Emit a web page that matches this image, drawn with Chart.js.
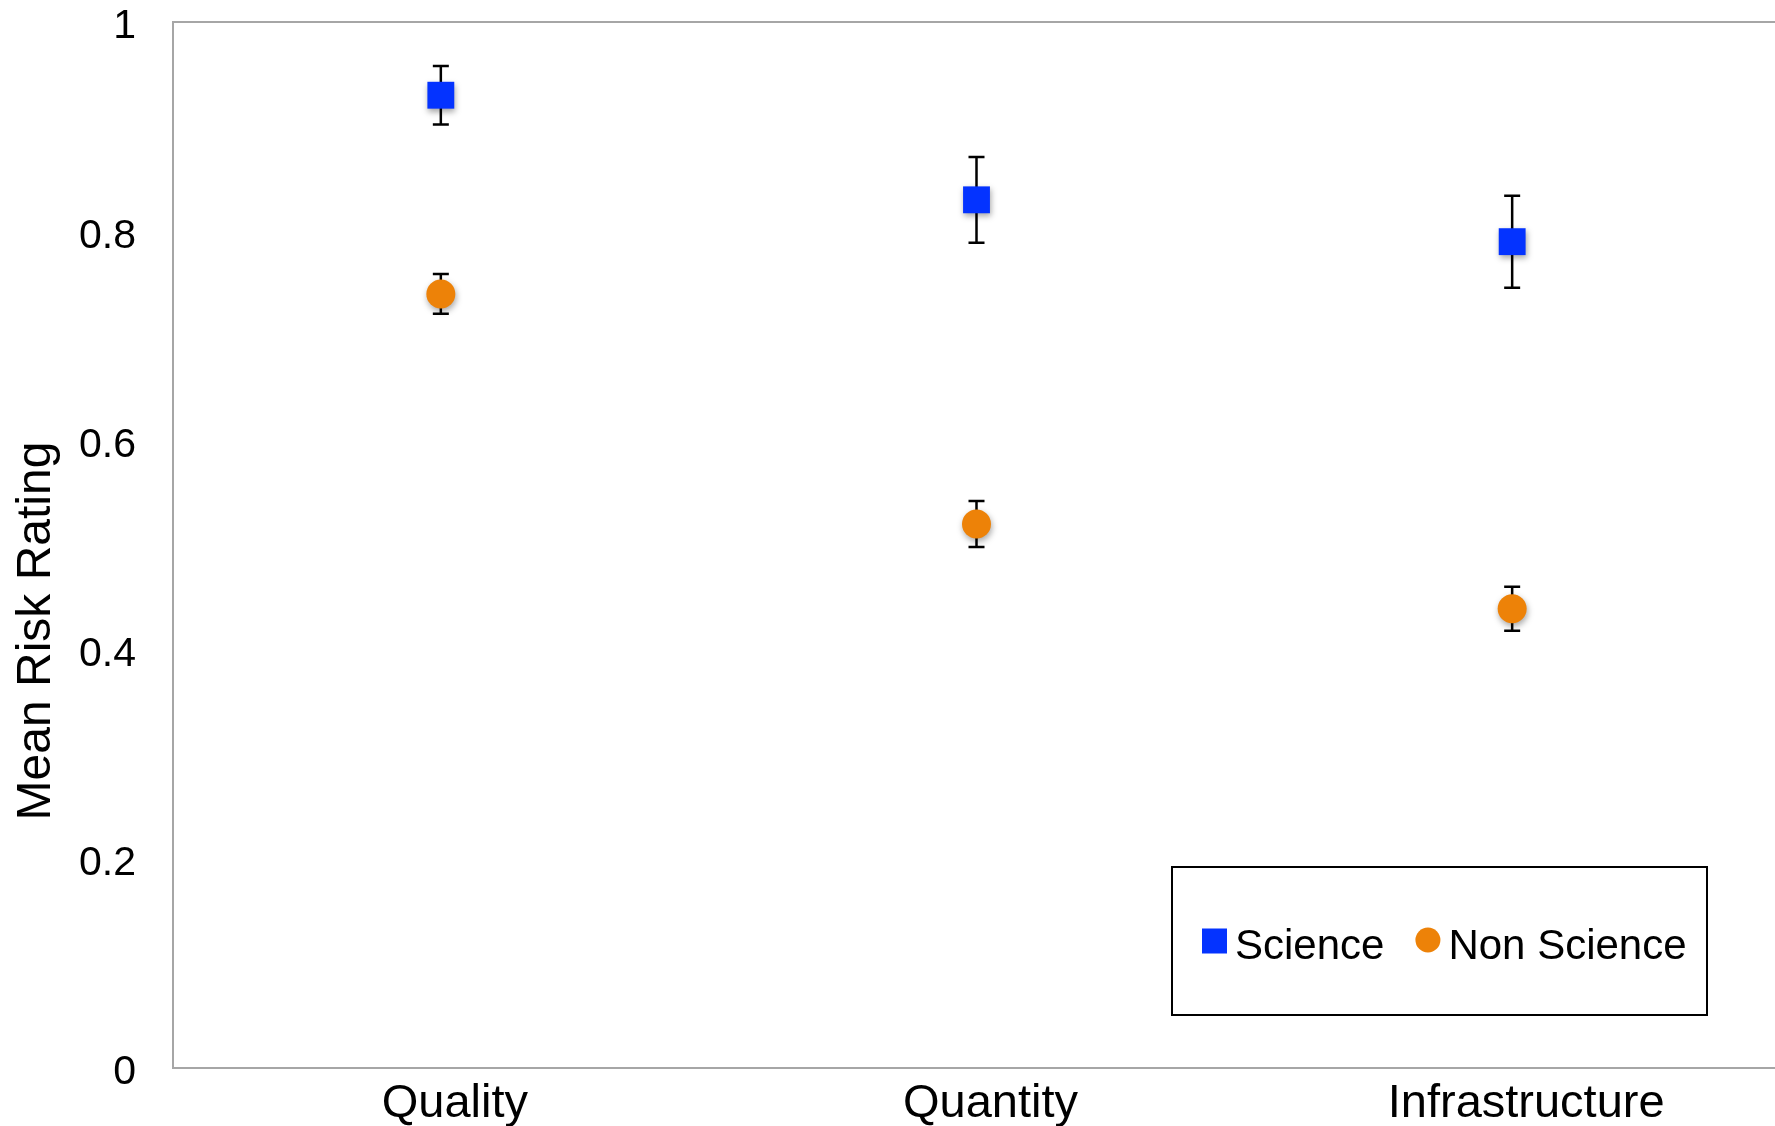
<!DOCTYPE html>
<html>
<head>
<meta charset="utf-8">
<script src="https://cdn.jsdelivr.net/npm/chart.js@4"></script>
<style>
  html, body { margin: 0; padding: 0; background: #fff; overflow: hidden; }
  #wrap { position: relative; width: 1799px; height: 1126px; }
</style>
</head>
<body>
<div id="wrap"><canvas id="chart-risk"></canvas></div>
<script>
var categories = ['Quality', 'Quantity', 'Infrastructure'];
var science = [0.930, 0.830, 0.790];
var scienceErr = [0.028, 0.041, 0.044];
var nonScience = [0.740, 0.520, 0.439];
var nonScienceErr = [0.019, 0.022, 0.021];

var FONT = "'Liberation Sans', Arial, Helvetica, sans-serif";
var BLUE = 'rgb(4, 51, 255)';
var ORANGE = 'rgb(237, 130, 8)';
var FRAME = '#a6a6a6';

// error bars behind the markers, then a soft shadow for the markers
var errorBars = {
  id: 'errorBars',
  beforeDatasetsDraw: function(chart) {
    let ctx = chart.ctx;
    let x = chart.scales.x, y = chart.scales.y;
    ctx.save();
    ctx.strokeStyle = '#000';
    ctx.lineWidth = 2.5;
    chart.data.datasets.forEach(function(ds) {
      ds.data.forEach(function(v, i) {
        let px = x.getPixelForValue(i);
        let top = y.getPixelForValue(v + ds.errors[i]);
        let bot = y.getPixelForValue(v - ds.errors[i]);
        ctx.beginPath();
        ctx.moveTo(px, top); ctx.lineTo(px, bot);
        ctx.moveTo(px - 8, top); ctx.lineTo(px + 8, top);
        ctx.moveTo(px - 8, bot); ctx.lineTo(px + 8, bot);
        ctx.stroke();
      });
    });
    ctx.restore();
    ctx.save();
    ctx.shadowColor = 'rgba(0, 0, 0, 0.35)';
    ctx.shadowBlur = 6;
    ctx.shadowOffsetX = 1;
    ctx.shadowOffsetY = 3;
  },
  afterDatasetsDraw: function(chart) {
    chart.ctx.restore();
  }
};

// top frame line, rotated y title and the boxed legend
var decorations = {
  id: 'decorations',
  afterDraw: function(chart) {
    let ctx = chart.ctx;
    let area = chart.chartArea;
    ctx.save();
    ctx.strokeStyle = FRAME;
    ctx.lineWidth = 2;
    ctx.beginPath();
    ctx.moveTo(area.left, area.top);
    ctx.lineTo(area.right, area.top);
    ctx.stroke();

    ctx.fillStyle = '#000';
    ctx.font = '48px ' + FONT;
    ctx.textAlign = 'center';
    ctx.textBaseline = 'middle';
    ctx.translate(37, 631);
    ctx.rotate(-Math.PI / 2);
    ctx.fillText('Mean Risk Rating', 0, 0);
    ctx.restore();

    ctx.save();
    ctx.strokeStyle = '#000';
    ctx.lineWidth = 2;
    ctx.fillStyle = '#fff';
    ctx.fillRect(1172, 867, 535, 148);
    ctx.strokeRect(1172, 867, 535, 148);
    ctx.font = '42px ' + FONT;
    ctx.textBaseline = 'middle';
    ctx.textAlign = 'left';
    let cx = 1202, cy = 941;
    chart.data.datasets.forEach(function(ds) {
      ctx.fillStyle = ds.pointBackgroundColor;
      if (ds.pointStyle === 'rect') {
        ctx.fillRect(cx, cy - 12.5, 25, 25);
      } else {
        ctx.beginPath();
        ctx.arc(cx + 12.5, cy - 1, 12.5, 0, Math.PI * 2);
        ctx.fill();
      }
      ctx.fillStyle = '#000';
      ctx.fillText(ds.label, cx + 33, cy + 6);
      cx += 33 + ctx.measureText(ds.label).width + 31;
    });
    ctx.restore();
  }
};

new Chart(document.getElementById('chart-risk'), {
  type: 'line',
  data: {
    labels: categories,
    datasets: [{
      label: 'Science',
      data: science,
      errors: scienceErr,
      showLine: false,
      pointStyle: 'rect',
      pointRadius: 19,
      pointBorderWidth: 0,
      pointBackgroundColor: BLUE,
      pointBorderColor: BLUE
    }, {
      label: 'Non Science',
      data: nonScience,
      errors: nonScienceErr,
      showLine: false,
      pointStyle: 'circle',
      pointRadius: 14.5,
      pointBorderWidth: 0,
      pointBackgroundColor: ORANGE,
      pointBorderColor: ORANGE
    }]
  },
  options: {
    responsive: true,
    maintainAspectRatio: false,
    animation: false,
    events: [],
    layout: { padding: { top: 22, left: 0, right: 0, bottom: 0 } },
    plugins: {
      legend: { display: false },
      tooltip: { enabled: false }
    },
    scales: {
      x: {
        offset: true,
        grid: { display: false, drawTicks: false },
        border: { display: true, color: FRAME, width: 2 },
        ticks: {
          color: '#000',
          font: { family: FONT, size: 47 },
          padding: 8,
          labelOffset: 14,
          maxRotation: 0,
          autoSkip: false
        },
        afterFit: function(scale) {
          scale.height = 58;
          scale.paddingLeft = 0;
          scale.paddingRight = 0;
        }
      },
      y: {
        min: 0,
        max: 1,
        grid: { display: false, drawTicks: false },
        border: { display: true, color: FRAME, width: 2 },
        ticks: {
          stepSize: 0.2,
          color: '#000',
          font: { family: FONT, size: 41 },
          padding: 37,
          labelOffset: 5,
          callback: function(v) { return String(+v.toFixed(1)); }
        },
        afterFit: function(scale) {
          scale.width = 173;
          scale.paddingTop = 0;
          scale.paddingBottom = 0;
        }
      }
    }
  },
  plugins: [errorBars, decorations]
});
</script>
</body>
</html>
